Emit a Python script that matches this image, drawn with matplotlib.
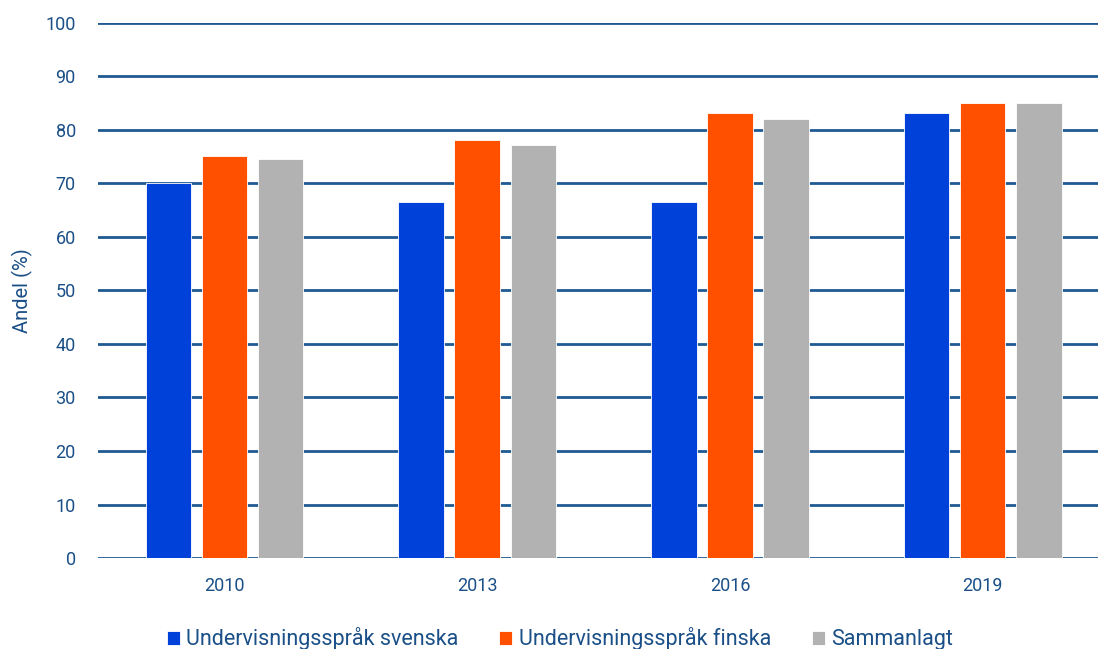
import matplotlib
matplotlib.use('Agg')
import matplotlib.pyplot as plt
import numpy as np

# data
years    = ['2010', '2013', '2016', '2019']
svenska  = [70.0, 66.6, 66.6, 83.1]
finska   = [75.1, 78.1, 83.1, 85.1]
samman   = [74.6, 77.1, 82.1, 85.1]
labels   = ['Undervisningsspråk svenska', 'Undervisningsspråk finska', 'Sammanlagt']
colors   = ['#0041d9', '#ff5000', '#b2b2b2']
TEXT     = '#1a4f87'
GRID     = '#1f5a93'

plt.rcParams['font.family'] = ['Roboto', 'DejaVu Sans']

fig = plt.figure(figsize=(10.98, 6.49), dpi=100)
ax  = fig.add_axes([0.0893, 0.1402, 0.9208, 0.8244])

x     = np.arange(len(years))
width = 0.18
step  = 0.222
for i, (vals, lab, col) in enumerate(zip([svenska, finska, samman], labels, colors)):
	ax.bar(x + (i - 1) * step, vals, width, color=col, label=lab, zorder=3,
	       edgecolor='white', linewidth=0.6)

ax.set_xlim(-0.5, 3.5)
ax.set_ylim(0, 100)
ax.set_yticks(range(0, 101, 10))
ax.set_xticks(x)
ax.set_xticklabels(years)
ax.grid(axis='y', color=GRID, linewidth=2, zorder=0)
for s in ax.spines.values():
	s.set_visible(False)
ax.tick_params(axis='both', length=0, labelsize=13, colors=TEXT)
ax.tick_params(axis='y', pad=16)
ax.tick_params(axis='x', pad=14)
ax.set_ylabel('Andel (%)', fontsize=14.5, color=TEXT)
ax.yaxis.set_label_coords(-0.064, 0.5)

leg = fig.legend(loc='center', bbox_to_anchor=(0.51, 1 - 639 / 649), ncol=3, frameon=False,
                 fontsize=15.5, handlelength=0.6, handleheight=0.6, handletextpad=0.3,
                 columnspacing=1.9)
for t in leg.get_texts():
	t.set_color(TEXT)

fig.savefig('out.png', dpi=100)
